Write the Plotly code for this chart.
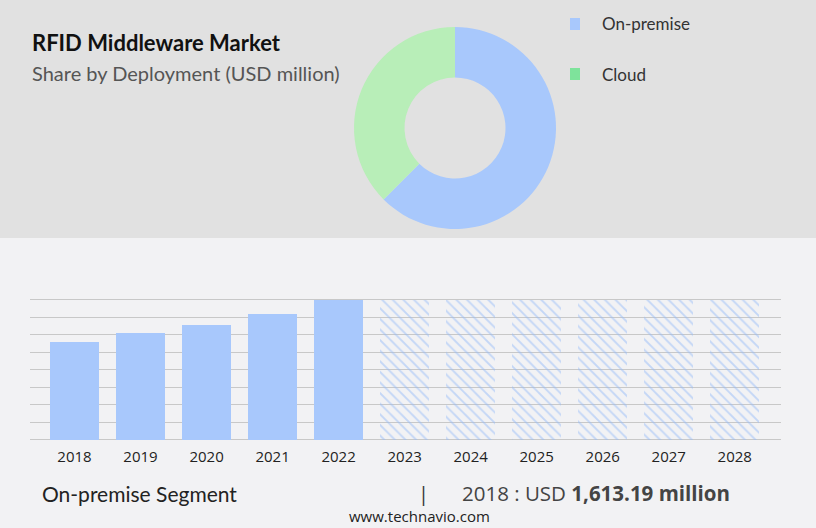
import plotly.graph_objects as go

# donut: share by deployment
segments = ["On-premise", "Cloud"]
shares = [62.5, 37.5]
slice_colors = ["#a8c8fc", "#b8eeb8"]
legend_colors = ["#a8c8fc", "#7ee39b"]

# bar chart: on-premise segment
years = ["2018", "2019", "2020", "2021", "2022", "2023", "2024", "2025", "2026", "2027", "2028"]
hist_values = [1613.19, 1761, 1893, 2074, 2304]
forecast_values = [2304, 2304, 2304, 2304, 2304, 2304]

W, H = 816, 528
n_hist = len(hist_values)
x_hist = list(range(n_hist))
x_fc = list(range(n_hist, len(years)))

# small padding so the top/bottom gridlines are kept inside the axis range
pad = 40
px_per_unit = 140 / 2304
pad_px = pad * px_per_unit

fig = go.Figure()

fig.add_trace(go.Pie(
    labels=segments, values=shares, hole=0.5, sort=False, direction="clockwise",
    rotation=0, marker=dict(colors=slice_colors, line=dict(width=0)),
    textinfo="none", hoverinfo="label+percent", showlegend=False,
    domain=dict(x=[354 / W, 556 / W], y=[1 - 229 / H, 1 - 27 / H]),
))

fig.add_trace(go.Bar(
    x=x_hist, y=hist_values, width=0.742, marker=dict(color="#a8c8fc", line=dict(width=0)),
    showlegend=False, hoverinfo="x+y",
))
fig.add_trace(go.Bar(
    x=x_fc, y=forecast_values, width=0.742,
    marker=dict(color="rgba(0,0,0,0)", line=dict(width=0),
                pattern=dict(shape="\\", fgcolor="#96bbf8", bgcolor="rgba(0,0,0,0)",
                             size=7.5, solidity=0.25, fillmode="overlay")),
    showlegend=False, hoverinfo="skip",
))

fig.update_layout(
    width=W, height=H, margin=dict(l=0, r=0, t=0, b=0),
    paper_bgcolor="#f2f2f4", plot_bgcolor="rgba(0,0,0,0)",
    bargap=0,
    xaxis=dict(domain=[30 / W, 781 / W], range=[-0.674, 10.7], tickmode="array",
               tickvals=list(range(len(years))), ticktext=years, showgrid=False,
               zeroline=False, showline=False, ticks="", ticklabelstandoff=4,
               tickfont=dict(family="Open Sans", size=15, color="#222222")),
    yaxis=dict(domain=[1 - (440 + pad_px) / H, 1 - (300 - pad_px) / H], range=[-pad, 2304 + pad],
               tick0=0, dtick=288, showgrid=True, gridcolor="#c8c8c8", gridwidth=1,
               zeroline=False, showticklabels=False, ticks=""),
    shapes=[
        dict(type="rect", xref="paper", yref="paper", x0=0, x1=1, y0=1 - 238 / H, y1=1,
             fillcolor="#e1e1e1", line=dict(width=0), layer="below"),
        dict(type="rect", xref="paper", yref="paper", x0=570 / W, x1=580 / W,
             y0=1 - 30 / H, y1=1 - 18 / H, fillcolor=legend_colors[0], line=dict(width=0)),
        dict(type="rect", xref="paper", yref="paper", x0=570 / W, x1=580 / W,
             y0=1 - 80 / H, y1=1 - 68 / H, fillcolor=legend_colors[1], line=dict(width=0)),
    ],
    annotations=[
        dict(text="<b>RFID Middleware Market</b>", x=30 / W, y=1 - 43 / H, xref="paper", yref="paper",
             xanchor="left", yanchor="middle", showarrow=False,
             font=dict(family="Lato", size=22, color="#111111")),
        dict(text="Share by Deployment (USD million)", x=30 / W, y=1 - 73 / H, xref="paper", yref="paper",
             xanchor="left", yanchor="middle", showarrow=False,
             font=dict(family="Lato", size=20, color="#555555")),
        dict(text=segments[0], x=600 / W, y=1 - 24 / H, xref="paper", yref="paper",
             xanchor="left", yanchor="middle", showarrow=False,
             font=dict(family="Lato", size=17, color="#333333")),
        dict(text=segments[1], x=600 / W, y=1 - 74 / H, xref="paper", yref="paper",
             xanchor="left", yanchor="middle", showarrow=False,
             font=dict(family="Lato", size=17, color="#333333")),
        dict(text="On-premise Segment", x=40 / W, y=1 - 493 / H, xref="paper", yref="paper",
             xanchor="left", yanchor="middle", showarrow=False,
             font=dict(family="Lato", size=21, color="#222222")),
        dict(text="|", x=423 / W, y=1 - 493 / H, xref="paper", yref="paper",
             xanchor="center", yanchor="middle", showarrow=False,
             font=dict(family="Open Sans", size=20, color="#333333")),
        dict(text="2018 : USD <b>1,613.19 million</b>", x=460 / W, y=1 - 493 / H,
             xref="paper", yref="paper", xanchor="left", yanchor="middle", showarrow=False,
             font=dict(family="Open Sans", size=20.5, color="#444444")),
        dict(text="www.technavio.com", x=420 / W, y=1 - 516 / H, xref="paper", yref="paper",
             xanchor="center", yanchor="middle", showarrow=False,
             font=dict(family="Open Sans", size=15, color="#222222")),
    ],
)

fig.write_html("out.html", config={"displayModeBar": False},
               post_script="document.body.style.margin = '0';")
